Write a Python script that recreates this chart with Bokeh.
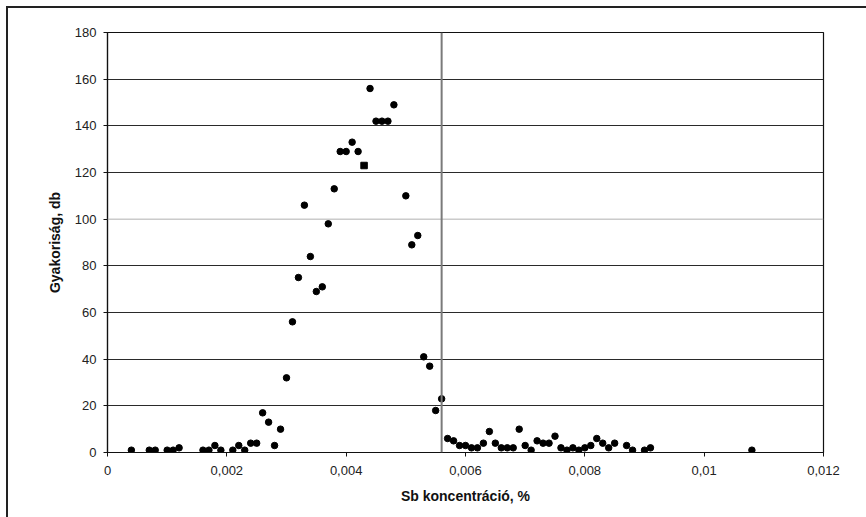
from bokeh.plotting import figure
from bokeh.models import Range1d, FixedTicker, CustomJSTickFormatter, Span, ColumnDataSource
from bokeh.embed import file_html
from bokeh.resources import INLINE

# Sb concentration (%) and frequency (db)
sb_conc = [0.0004, 0.0007, 0.0008, 0.0010, 0.0011, 0.0012,
           0.0016, 0.0017, 0.0018, 0.0019,
           0.0021, 0.0022, 0.0023, 0.0024, 0.0025, 0.0026, 0.0027, 0.0028, 0.0029,
           0.0030, 0.0031, 0.0032, 0.0033, 0.0034, 0.0035, 0.0036, 0.0037, 0.0038, 0.0039,
           0.0040, 0.0041, 0.0042, 0.0043, 0.0044, 0.0045, 0.0046, 0.0047, 0.0048,
           0.0050, 0.0051, 0.0052, 0.0053, 0.0054, 0.0055, 0.0056, 0.0057, 0.0058,
           0.0059, 0.0060, 0.0061, 0.0062, 0.0063, 0.0064, 0.0065, 0.0066, 0.0067, 0.0068,
           0.0069, 0.0070, 0.0071, 0.0072, 0.0073, 0.0074, 0.0075, 0.0076, 0.0077, 0.0078,
           0.0079, 0.0080, 0.0081, 0.0082, 0.0083, 0.0084, 0.0085,
           0.0087, 0.0088, 0.0090, 0.0091, 0.0108]
frequency = [1, 1, 1, 1, 1, 2,
             1, 1, 3, 1,
             1, 3, 1, 4, 4, 17, 13, 3, 10,
             32, 56, 75, 106, 84, 69, 71, 98, 113, 129,
             129, 133, 129, 123, 156, 142, 142, 142, 149,
             110, 89, 93, 41, 37, 18, 23, 6, 5,
             3, 3, 2, 2, 4, 9, 4, 2, 2, 2,
             10, 3, 1, 5, 4, 4, 7, 2, 1, 2,
             1, 2, 3, 6, 4, 2, 4,
             3, 1, 1, 2, 1]
square_points = [0.0043]
limit_line = 0.0056

x_ticks = [0, 0.002, 0.004, 0.006, 0.008, 0.010, 0.012]
y_ticks = [0, 20, 40, 60, 80, 100, 120, 140, 160, 180]
light_grid = [100]

markers = ["square" if any(abs(x - s) < 1e-9 for s in square_points) else "circle" for x in sb_conc]
src = ColumnDataSource(dict(x=sb_conc, y=frequency, m=markers))

p = figure(width=866, height=517, output_backend="svg", toolbar_location=None,
           x_range=Range1d(0, 0.012), y_range=Range1d(0, 180),
           min_border_left=107, min_border_right=43, min_border_top=32, min_border_bottom=65)
p.styles = {"background": "linear-gradient(#222222, #222222) 6px 6px / 100% 2px no-repeat, "
                          "linear-gradient(#222222, #222222) 6px 6px / 2px 100% no-repeat, white"}
p.background_fill_color = "white"
p.border_fill_color = None
p.outline_line_color = "#111111"
p.outline_line_width = 1.2

p.xgrid.visible = False
p.ygrid.ticker = FixedTicker(ticks=[t for t in y_ticks if t not in light_grid and t not in (0, 180)])
p.ygrid.grid_line_color = "#2a2a2a"
p.ygrid.grid_line_width = 1.2
for g in light_grid:
    p.add_layout(Span(location=g, dimension="width", line_color="#b0b0b0", line_width=1))

p.add_layout(Span(location=limit_line, dimension="height", line_color="#7a7a7a", line_width=2))

p.scatter("x", "y", marker="m", source=src, size=6.5, color="black")

font = "Liberation Sans"
p.xaxis.ticker = FixedTicker(ticks=x_ticks)
p.yaxis.ticker = FixedTicker(ticks=y_ticks)
p.xaxis.formatter = CustomJSTickFormatter(code="""
var s = parseFloat(tick.toFixed(4)).toString();
return s.replace('.', ',');
""")
for ax in (p.xaxis, p.yaxis):
    ax.axis_line_color = "#111111"
    ax.axis_line_width = 1.2
    ax.major_tick_line_color = "#111111"
    ax.major_tick_out = 4
    ax.major_tick_in = 0
    ax.minor_tick_line_color = None
    ax.major_label_text_font = font
    ax.major_label_text_font_size = "13px"
    ax.major_label_text_color = "#222222"
    ax.axis_label_text_font = font
    ax.axis_label_text_font_size = "14px"
    ax.axis_label_text_font_style = "bold"
    ax.axis_label_text_color = "#111111"

p.xaxis.axis_label = "Sb koncentráció, %"
p.yaxis.axis_label = "Gyakoriság, db"
p.xaxis.major_label_standoff = 9
p.yaxis.major_label_standoff = 7
p.xaxis.axis_label_standoff = 10
p.yaxis.axis_label_standoff = 9

open("out.html", "w").write(file_html(p, INLINE))
